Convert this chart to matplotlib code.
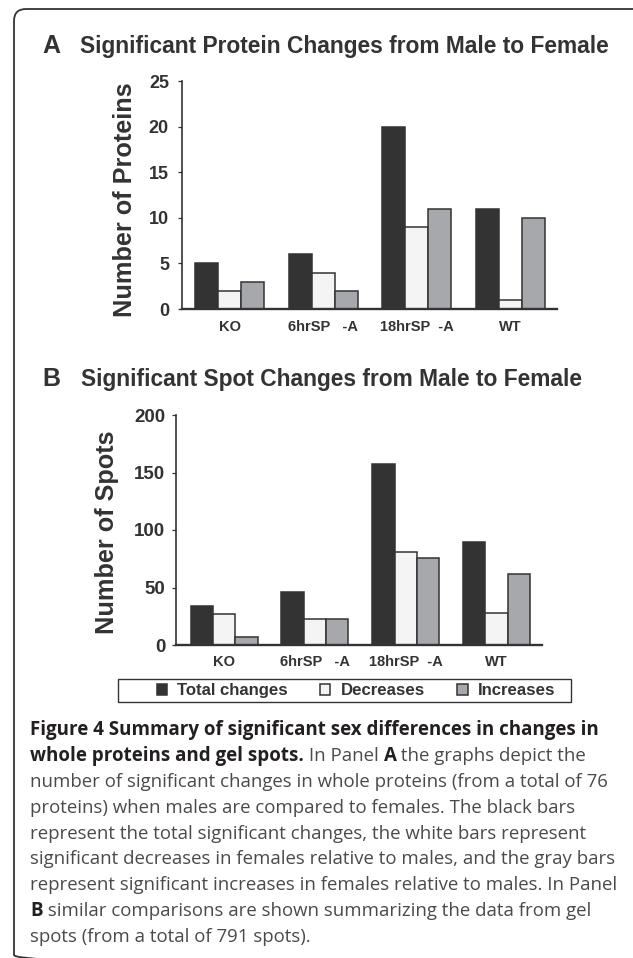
import matplotlib
matplotlib.use("Agg")
import matplotlib.pyplot as plt
import numpy as np
from matplotlib.patches import FancyBboxPatch, Rectangle

# Daten
groups = ["KO", "6hrSP   -A", "18hrSP  -A", "WT"]
series_names = ["Total changes", "Decreases", "Increases"]
protein_total = [5, 6, 20, 11]
protein_dec = [2, 4, 9, 1]
protein_inc = [3, 2, 11, 10]
spot_total = [34, 46, 157, 90]
spot_dec = [27, 23, 81, 28]
spot_inc = [7, 23, 76, 62]

colors = ["#333333", "#f4f4f4", "#a7a8ab"]
ink = "#333333"

caption_lines = [
    [("Figure 4 Summary of significant sex differences in changes in", True)],
    [("whole proteins and gel spots.", True), (" In Panel ", False), ("A", True),
     (" the graphs depict the", False)],
    [("number of significant changes in whole proteins (from a total of 76", False)],
    [("proteins) when males are compared to females. The black bars", False)],
    [("represent the total significant changes, the white bars represent", False)],
    [("significant decreases in females relative to males, and the gray bars", False)],
    [("represent significant increases in females relative to males. In Panel", False)],
    [("B", True), (" similar comparisons are shown summarizing the data from gel", False)],
    [("spots (from a total of 791 spots).", False)],
]

plt.rcParams["font.family"] = ["Liberation Sans", "DejaVu Sans"]
plt.rcParams["font.weight"] = "bold"

W, H = 633, 958
fig = plt.figure(figsize=(W / 100, H / 100), dpi=100)

# Hintergrund-Achse in Pixelkoordinaten (y nach unten)
bg = fig.add_axes([0, 0, 1, 1], zorder=0)
bg.set_xlim(0, W)
bg.set_ylim(H, 0)
bg.axis("off")

# Rahmen mit abgerundeter Ecke (rechts und unten abgeschnitten)
bg.add_patch(FancyBboxPatch((14, 9), 700, 958, boxstyle="round,pad=0,rounding_size=12",
                            fill=False, edgecolor=ink, linewidth=1.3))


def px_axes(left, top, right, bottom):
    return fig.add_axes([left / W, 1 - bottom / H, (right - left) / W, (bottom - top) / H],
                        zorder=1, facecolor="none")


def bar_panel(ax, total, dec, inc, ymax, step, xleft, ytick_size, ytick_pad, xlab_pad):
    x = np.arange(len(groups))
    w = 0.246
    conts = []
    for k, vals in enumerate([total, dec, inc]):
        conts.append(ax.bar(x + (k - 1) * w, vals, w, color=colors[k], edgecolor=ink,
                            linewidth=1.1, label=series_names[k]))
    ax.set_xlim(xleft, 3.5)
    ax.set_ylim(0, ymax)
    ax.set_yticks(np.arange(0, ymax + 1, step))
    ax.set_xticks(x, groups)
    for side in ["top", "right"]:
        ax.spines[side].set_visible(False)
    ax.spines["left"].set_linewidth(1.2)
    ax.spines["bottom"].set_linewidth(1.7)
    ax.spines["left"].set_color(ink)
    ax.spines["bottom"].set_color(ink)
    ax.tick_params(axis="y", length=2.9, width=0.9, color=ink, pad=ytick_pad,
                   labelsize=ytick_size, labelcolor=ink)
    ax.tick_params(axis="x", length=0, pad=xlab_pad, labelsize=10.5, labelcolor=ink)
    return conts


# Panel A
axA = px_axes(182, 81, 557, 309)
bar_panel(axA, protein_total, protein_dec, protein_inc, 25, 5, -0.509, 13, 6.5, 8)

# Panel B
axB = px_axes(176, 415, 542, 645)
conts_b = bar_panel(axB, spot_total, spot_dec, spot_inc, 200, 50, -0.529, 13.5, 4.7, 7.2)

# Titel
bg.text(42, 53, "A", fontsize=18, color=ink, va="baseline")
bg.text(80, 53, "Significant Protein Changes from Male to Female", fontsize=16.4,
        color=ink, va="baseline")
bg.text(42, 386, "B", fontsize=18, color=ink, va="baseline")
bg.text(81, 386, "Significant Spot Changes from Male to Female", fontsize=16.4,
        color=ink, va="baseline")

# Achsenbeschriftungen
bg.text(125, 200, "Number of Proteins", fontsize=18.2, rotation=90, ha="center",
        va="center", color=ink)
bg.text(107, 532, "Number of Spots", fontsize=18.2, rotation=90, ha="center",
        va="center", color=ink)

# Legende
bg.add_patch(Rectangle((118, 679), 453, 23, fill=False, edgecolor=ink, linewidth=1.0))
leg = fig.legend(handles=conts_b, labels=series_names, ncol=3, loc="center",
                 bbox_to_anchor=(356 / W, 1 - 690.5 / H), frameon=False,
                 prop=dict(family="Liberation Sans", weight="bold", size=12.1),
                 handlelength=0.62, handleheight=0.62, handletextpad=0.62,
                 columnspacing=1.9, borderpad=0, borderaxespad=0)
for t in leg.get_texts():
    t.set_color(ink)

# Bildunterschrift
renderer = fig.canvas.get_renderer()
cap_font = ["Open Sans", "DejaVu Sans"]


def text_width(s, **kw):
    t = bg.text(0, 0, "|" + s + "|", **kw)
    w1 = t.get_window_extent(renderer).width
    t.set_text("||")
    w2 = t.get_window_extent(renderer).width
    t.remove()
    return w1 - w2


size_bold = 14 * 572 / text_width(caption_lines[0][0][0], family=cap_font,
                                  fontweight="bold", fontsize=14)
size_reg = 14 * 579 / text_width(caption_lines[2][0][0], family=cap_font,
                                 fontweight="normal", fontsize=14)

for i, line in enumerate(caption_lines):
    x = 30
    y = 735 + i * 25.9
    for s, bold in line:
        kw = dict(family=cap_font, fontweight="bold" if bold else "normal",
                  fontsize=size_bold if bold else size_reg)
        bg.text(x, y, s, va="baseline", color="#231f20" if bold else "#4a4a4a", **kw)
        x += text_width(s, **kw)

fig.savefig("out.png", dpi=100)
